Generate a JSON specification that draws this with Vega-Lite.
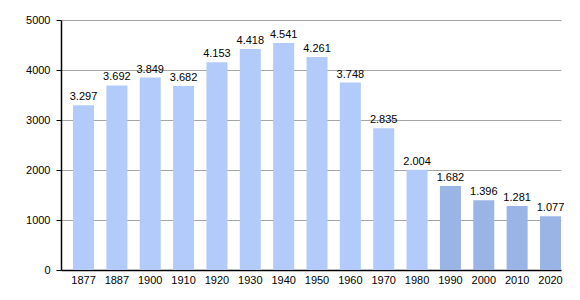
{
  "$schema": "https://vega.github.io/schema/vega-lite/v6.json",
  "width": 500,
  "height": 250,
  "autosize": "none",
  "padding": {"left": 61, "top": 20, "right": 19, "bottom": 30},
  "background": "white",
  "config": {
    "view": {"stroke": null},
    "font": "Liberation Sans",
    "locale": {"number": {"decimal": ",", "thousands": ".", "grouping": [3], "currency": ["", ""]}}
  },
  "data": {
    "values": [
      {"year": "1877", "pop": 3297, "period": "a"},
      {"year": "1887", "pop": 3692, "period": "a"},
      {"year": "1900", "pop": 3849, "period": "a"},
      {"year": "1910", "pop": 3682, "period": "a"},
      {"year": "1920", "pop": 4153, "period": "a"},
      {"year": "1930", "pop": 4418, "period": "a"},
      {"year": "1940", "pop": 4541, "period": "a"},
      {"year": "1950", "pop": 4261, "period": "a"},
      {"year": "1960", "pop": 3748, "period": "a"},
      {"year": "1970", "pop": 2835, "period": "a"},
      {"year": "1980", "pop": 2004, "period": "a"},
      {"year": "1990", "pop": 1682, "period": "b"},
      {"year": "2000", "pop": 1396, "period": "b"},
      {"year": "2010", "pop": 1281, "period": "b"},
      {"year": "2020", "pop": 1077, "period": "b"}
    ]
  },
  "encoding": {
    "x": {
      "field": "year",
      "type": "ordinal",
      "sort": null,
      "scale": {"paddingInner": 0.37, "paddingOuter": 0.18, "align": 1},
      "axis": {
        "title": null,
        "labelAngle": 0,
        "ticks": false,
        "domainColor": "#000000",
        "domainWidth": 1.5,
        "labelColor": "#000000",
        "labelFontSize": 11,
        "labelPadding": 4
      }
    }
  },
  "layer": [
    {
      "mark": {"type": "bar"},
      "encoding": {
        "y": {
          "field": "pop",
          "type": "quantitative",
          "scale": {"domain": [0, 5000], "nice": false},
          "axis": {
            "title": null,
            "values": [0, 500, 1000, 1500, 2000, 2500, 3000, 3500, 4000, 4500, 5000],
            "labelExpr": "datum.value % 1000 === 0 ? format(datum.value, 'd') : ''",
            "gridColor": {"condition": {"test": "datum.value % 1000 === 0", "value": "#a6a6a6"}, "value": "#e2e2e2"},
            "gridWidth": 1,
            "domainColor": "#000000",
            "domainWidth": 1.5,
            "tickColor": "#000000",
            "tickSize": 5,
            "labelColor": "#000000",
            "labelFontSize": 11,
            "labelPadding": 6
          }
        },
        "color": {
          "field": "period",
          "type": "nominal",
          "scale": {"domain": ["a", "b"], "range": ["#b3cbfb", "#9bb4e6"]},
          "legend": null
        }
      }
    },
    {
      "mark": {"type": "text", "baseline": "bottom", "dy": -3, "fontSize": 11, "color": "#000000"},
      "encoding": {
        "y": {"field": "pop", "type": "quantitative"},
        "text": {"field": "pop", "type": "quantitative", "format": ",d"}
      }
    }
  ]
}
